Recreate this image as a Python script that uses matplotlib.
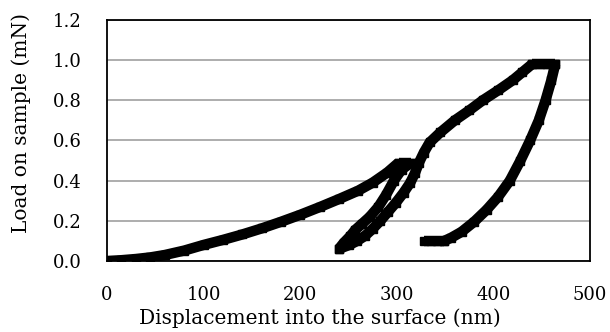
import matplotlib.pyplot as plt

# loading segment 1 (nm, mN)
load1_h = [0, 15, 30, 45, 60, 80, 100, 120, 140, 160, 180, 200, 220, 240, 260, 275, 290, 302]
load1_p = [0.0, 0.004, 0.01, 0.018, 0.03, 0.052, 0.08, 0.105, 0.132, 0.162, 0.195, 0.23, 0.268, 0.308, 0.35, 0.39, 0.44, 0.49]

# hold at first peak
hold1_h = [302, 308, 315]
hold1_p = [0.49, 0.49, 0.49]

# partial unload
unload1_h = [315, 305, 297, 289, 281, 272, 264, 257, 252, 245, 240]
unload1_p = [0.49, 0.455, 0.40, 0.33, 0.27, 0.22, 0.185, 0.155, 0.125, 0.09, 0.06]

# reload up to second peak
reload_h = [240, 251, 259, 267, 275, 283, 291, 299, 307, 314, 319, 323, 328, 334, 345, 360, 375, 389, 405, 420, 430, 440]
reload_p = [0.06, 0.08, 0.10, 0.125, 0.16, 0.20, 0.245, 0.29, 0.34, 0.39, 0.44, 0.49, 0.54, 0.59, 0.64, 0.70, 0.75, 0.80, 0.85, 0.90, 0.94, 0.98]

# hold at second peak
hold2_h = [440, 448, 456, 464]
hold2_p = [0.98, 0.98, 0.98, 0.98]

# final unload
unload2_h = [464, 460, 454, 447, 438, 428, 417, 405, 393, 380, 367, 356, 349]
unload2_p = [0.98, 0.90, 0.80, 0.70, 0.60, 0.50, 0.40, 0.32, 0.255, 0.195, 0.145, 0.115, 0.10]

# hold near zero load
hold3_h = [349, 342, 335, 328]
hold3_p = [0.10, 0.10, 0.10, 0.10]

segments = [(load1_h, load1_p), (hold1_h, hold1_p), (unload1_h, unload1_p),
            (reload_h, reload_p), (hold2_h, hold2_p), (unload2_h, unload2_p),
            (hold3_h, hold3_p)]

plt.rcParams['font.family'] = ['DejaVu Serif']

fig = plt.figure(figsize=(6.1, 3.32), dpi=100)
ax = fig.add_axes([0.1754, 0.2139, 0.7918, 0.7259])

for h, p in segments:
    ax.plot(h, p, color='black', lw=7.5, marker='s', ms=6,
            solid_joinstyle='round', solid_capstyle='butt', zorder=3)

ax.set_xlim(0, 500)
ax.set_ylim(0, 1.2)
ax.set_xticks(range(0, 501, 100))
ax.set_yticks([0.0, 0.2, 0.4, 0.6, 0.8, 1.0, 1.2])
ax.set_yticklabels([f'{v:.1f}' for v in [0.0, 0.2, 0.4, 0.6, 0.8, 1.0, 1.2]])
ax.tick_params(length=0, labelsize=13, pad=18, colors='black')
ax.grid(axis='y', color='#a0a0a0', lw=1.2)
ax.set_axisbelow(True)
for s in ax.spines.values():
    s.set_color('black')
    s.set_linewidth(1.3)

ax.set_xlabel('Displacement into the surface (nm)', fontsize=14.5, labelpad=2)
ax.xaxis.set_label_coords(0.441, -0.195)
ax.set_ylabel('Load on sample (mN)', fontsize=14.5)
ax.yaxis.set_label_coords(-0.157, 0.573)

fig.savefig('out.png', dpi=100)
